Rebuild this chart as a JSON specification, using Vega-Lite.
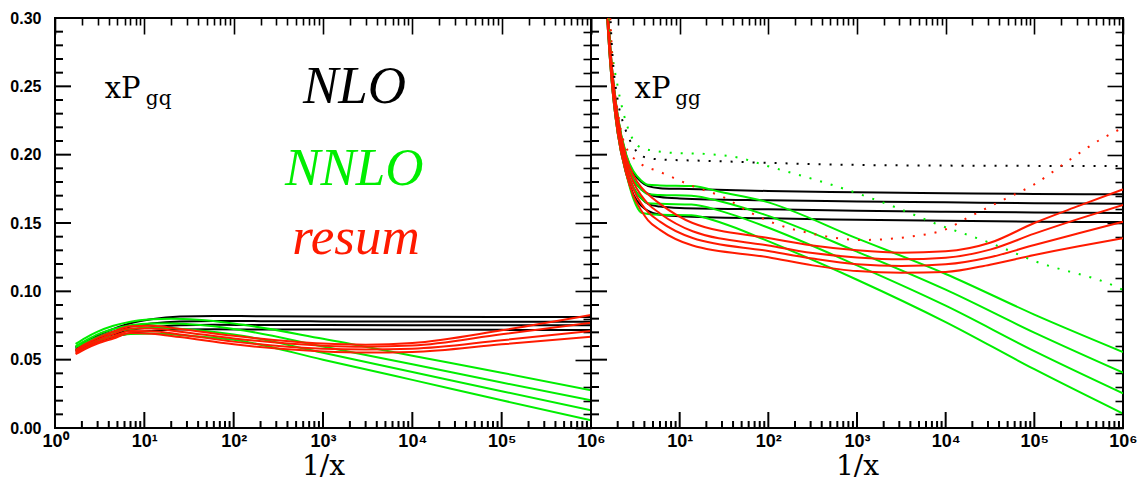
{
  "$schema": "https://vega.github.io/schema/vega-lite/v6.json",
  "background": "white",
  "padding": {"left": 8, "top": 9, "right": 2, "bottom": 2},
  "spacing": 0,
  "bounds": "flush",
  "config": {
    "view": {"stroke": "black", "strokeWidth": 2},
    "axis": {"domain": false, "grid": false, "tickColor": "black", "tickWidth": 1.6, "labelFont": "Liberation Sans", "labelFontWeight": "bold", "labelFontSize": 16, "labelColor": "black", "labelFlush": false, "labelOverlap": false, "labelBound": false, "titleFont": "DejaVu Serif", "titleFontWeight": "normal", "titleFontSize": 28, "titleColor": "black"},
    "concat": {"spacing": 0}
  },
  "datasets": {
    "xticks": [
      {"v":1,"kind":"major"},{"v":2,"kind":"minor"},{"v":3,"kind":"minor"},{"v":4,"kind":"minor"},{"v":5,"kind":"minor"},{"v":6,"kind":"minor"},{"v":7,"kind":"minor"},{"v":8,"kind":"minor"},{"v":9,"kind":"minor"},
      {"v":10,"kind":"major"},{"v":20,"kind":"minor"},{"v":30,"kind":"minor"},{"v":40,"kind":"minor"},{"v":50,"kind":"minor"},{"v":60,"kind":"minor"},{"v":70,"kind":"minor"},{"v":80,"kind":"minor"},{"v":90,"kind":"minor"},
      {"v":100,"kind":"major"},{"v":200,"kind":"minor"},{"v":300,"kind":"minor"},{"v":400,"kind":"minor"},{"v":500,"kind":"minor"},{"v":600,"kind":"minor"},{"v":700,"kind":"minor"},{"v":800,"kind":"minor"},{"v":900,"kind":"minor"},
      {"v":1000,"kind":"major"},{"v":2000,"kind":"minor"},{"v":3000,"kind":"minor"},{"v":4000,"kind":"minor"},{"v":5000,"kind":"minor"},{"v":6000,"kind":"minor"},{"v":7000,"kind":"minor"},{"v":8000,"kind":"minor"},{"v":9000,"kind":"minor"},
      {"v":10000,"kind":"major"},{"v":20000,"kind":"minor"},{"v":30000,"kind":"minor"},{"v":40000,"kind":"minor"},{"v":50000,"kind":"minor"},{"v":60000,"kind":"minor"},{"v":70000,"kind":"minor"},{"v":80000,"kind":"minor"},{"v":90000,"kind":"minor"},
      {"v":100000,"kind":"major"},{"v":200000,"kind":"minor"},{"v":300000,"kind":"minor"},{"v":400000,"kind":"minor"},{"v":500000,"kind":"minor"},{"v":600000,"kind":"minor"},{"v":700000,"kind":"minor"},{"v":800000,"kind":"minor"},{"v":900000,"kind":"minor"},
      {"v":1000000,"kind":"major"}
    ],
    "yticks": [
      {"v":0,"kind":"major"},{"v":0.01,"kind":"minor"},{"v":0.02,"kind":"minor"},{"v":0.03,"kind":"minor"},{"v":0.04,"kind":"minor"},
      {"v":0.05,"kind":"major"},{"v":0.06,"kind":"minor"},{"v":0.07,"kind":"minor"},{"v":0.08,"kind":"minor"},{"v":0.09,"kind":"minor"},
      {"v":0.1,"kind":"major"},{"v":0.11,"kind":"minor"},{"v":0.12,"kind":"minor"},{"v":0.13,"kind":"minor"},{"v":0.14,"kind":"minor"},
      {"v":0.15,"kind":"major"},{"v":0.16,"kind":"minor"},{"v":0.17,"kind":"minor"},{"v":0.18,"kind":"minor"},{"v":0.19,"kind":"minor"},
      {"v":0.2,"kind":"major"},{"v":0.21,"kind":"minor"},{"v":0.22,"kind":"minor"},{"v":0.23,"kind":"minor"},{"v":0.24,"kind":"minor"},
      {"v":0.25,"kind":"major"},{"v":0.26,"kind":"minor"},{"v":0.27,"kind":"minor"},{"v":0.28,"kind":"minor"},{"v":0.29,"kind":"minor"},
      {"v":0.3,"kind":"major"}
    ],
    "gq": [
      {"curve":"B1","order":"NLO","X":1.7,"y":0.059},{"curve":"B1","order":"NLO","X":2.2,"y":0.0635},{"curve":"B1","order":"NLO","X":3,"y":0.068},{"curve":"B1","order":"NLO","X":4.5,"y":0.0725},{"curve":"B1","order":"NLO","X":7,"y":0.0766},{"curve":"B1","order":"NLO","X":12,"y":0.0795},{"curve":"B1","order":"NLO","X":25,"y":0.0815},{"curve":"B1","order":"NLO","X":60,"y":0.082},{"curve":"B1","order":"NLO","X":200,"y":0.0818},{"curve":"B1","order":"NLO","X":1000,"y":0.0816},{"curve":"B1","order":"NLO","X":10000,"y":0.0814},{"curve":"B1","order":"NLO","X":100000,"y":0.0813},{"curve":"B1","order":"NLO","X":1000000,"y":0.0812},
      {"curve":"B2","order":"NLO","X":1.7,"y":0.058},{"curve":"B2","order":"NLO","X":2.2,"y":0.062},{"curve":"B2","order":"NLO","X":3,"y":0.0665},{"curve":"B2","order":"NLO","X":4.5,"y":0.0705},{"curve":"B2","order":"NLO","X":7,"y":0.0742},{"curve":"B2","order":"NLO","X":12,"y":0.0765},{"curve":"B2","order":"NLO","X":25,"y":0.078},{"curve":"B2","order":"NLO","X":60,"y":0.0783},{"curve":"B2","order":"NLO","X":200,"y":0.0782},{"curve":"B2","order":"NLO","X":1000,"y":0.078},{"curve":"B2","order":"NLO","X":10000,"y":0.0779},{"curve":"B2","order":"NLO","X":100000,"y":0.0778},{"curve":"B2","order":"NLO","X":1000000,"y":0.0778},
      {"curve":"B3","order":"NLO","X":1.7,"y":0.057},{"curve":"B3","order":"NLO","X":2.2,"y":0.061},{"curve":"B3","order":"NLO","X":3,"y":0.065},{"curve":"B3","order":"NLO","X":4.5,"y":0.0685},{"curve":"B3","order":"NLO","X":7,"y":0.0718},{"curve":"B3","order":"NLO","X":12,"y":0.0737},{"curve":"B3","order":"NLO","X":25,"y":0.0752},{"curve":"B3","order":"NLO","X":60,"y":0.0755},{"curve":"B3","order":"NLO","X":200,"y":0.0754},{"curve":"B3","order":"NLO","X":1000,"y":0.0753},{"curve":"B3","order":"NLO","X":10000,"y":0.0752},{"curve":"B3","order":"NLO","X":100000,"y":0.0751},{"curve":"B3","order":"NLO","X":1000000,"y":0.0751},
      {"curve":"B4","order":"NLO","X":1.7,"y":0.056},{"curve":"B4","order":"NLO","X":2.2,"y":0.0595},{"curve":"B4","order":"NLO","X":3,"y":0.0632},{"curve":"B4","order":"NLO","X":4.5,"y":0.0665},{"curve":"B4","order":"NLO","X":7,"y":0.0693},{"curve":"B4","order":"NLO","X":12,"y":0.071},{"curve":"B4","order":"NLO","X":25,"y":0.072},{"curve":"B4","order":"NLO","X":60,"y":0.0722},{"curve":"B4","order":"NLO","X":200,"y":0.0721},{"curve":"B4","order":"NLO","X":1000,"y":0.072},{"curve":"B4","order":"NLO","X":10000,"y":0.0719},{"curve":"B4","order":"NLO","X":100000,"y":0.0718},{"curve":"B4","order":"NLO","X":1000000,"y":0.0717},
      {"curve":"G1","order":"NNLO","X":1.7,"y":0.0615},{"curve":"G1","order":"NNLO","X":2.2,"y":0.066},{"curve":"G1","order":"NNLO","X":3,"y":0.0705},{"curve":"G1","order":"NNLO","X":4.5,"y":0.0748},{"curve":"G1","order":"NNLO","X":7,"y":0.0778},{"curve":"G1","order":"NNLO","X":12,"y":0.0795},{"curve":"G1","order":"NNLO","X":20,"y":0.08},{"curve":"G1","order":"NNLO","X":40,"y":0.0792},{"curve":"G1","order":"NNLO","X":100,"y":0.0765},{"curve":"G1","order":"NNLO","X":1000,"y":0.0653},{"curve":"G1","order":"NNLO","X":10000,"y":0.0528},{"curve":"G1","order":"NNLO","X":100000,"y":0.0405},{"curve":"G1","order":"NNLO","X":1000000,"y":0.0276},
      {"curve":"G2","order":"NNLO","X":1.7,"y":0.06},{"curve":"G2","order":"NNLO","X":2.2,"y":0.064},{"curve":"G2","order":"NNLO","X":3,"y":0.0685},{"curve":"G2","order":"NNLO","X":4.5,"y":0.0725},{"curve":"G2","order":"NNLO","X":7,"y":0.0752},{"curve":"G2","order":"NNLO","X":12,"y":0.0765},{"curve":"G2","order":"NNLO","X":20,"y":0.0765},{"curve":"G2","order":"NNLO","X":40,"y":0.0755},{"curve":"G2","order":"NNLO","X":100,"y":0.0725},{"curve":"G2","order":"NNLO","X":1000,"y":0.0597},{"curve":"G2","order":"NNLO","X":10000,"y":0.0466},{"curve":"G2","order":"NNLO","X":100000,"y":0.0333},{"curve":"G2","order":"NNLO","X":1000000,"y":0.0203},
      {"curve":"G3","order":"NNLO","X":1.7,"y":0.059},{"curve":"G3","order":"NNLO","X":2.2,"y":0.0625},{"curve":"G3","order":"NNLO","X":3,"y":0.0665},{"curve":"G3","order":"NNLO","X":4.5,"y":0.0702},{"curve":"G3","order":"NNLO","X":7,"y":0.0725},{"curve":"G3","order":"NNLO","X":12,"y":0.0733},{"curve":"G3","order":"NNLO","X":20,"y":0.073},{"curve":"G3","order":"NNLO","X":40,"y":0.0715},{"curve":"G3","order":"NNLO","X":100,"y":0.0685},{"curve":"G3","order":"NNLO","X":1000,"y":0.0551},{"curve":"G3","order":"NNLO","X":10000,"y":0.041},{"curve":"G3","order":"NNLO","X":100000,"y":0.0269},{"curve":"G3","order":"NNLO","X":1000000,"y":0.013},
      {"curve":"G4","order":"NNLO","X":1.7,"y":0.057},{"curve":"G4","order":"NNLO","X":2.2,"y":0.0605},{"curve":"G4","order":"NNLO","X":3,"y":0.064},{"curve":"G4","order":"NNLO","X":4.5,"y":0.067},{"curve":"G4","order":"NNLO","X":7,"y":0.0688},{"curve":"G4","order":"NNLO","X":12,"y":0.0692},{"curve":"G4","order":"NNLO","X":20,"y":0.0685},{"curve":"G4","order":"NNLO","X":40,"y":0.067},{"curve":"G4","order":"NNLO","X":100,"y":0.0645},{"curve":"G4","order":"NNLO","X":1000,"y":0.05},{"curve":"G4","order":"NNLO","X":10000,"y":0.0352},{"curve":"G4","order":"NNLO","X":100000,"y":0.0203},{"curve":"G4","order":"NNLO","X":1000000,"y":0.0056},
      {"curve":"R1","order":"resum","X":1.7,"y":0.057},{"curve":"R1","order":"resum","X":2.2,"y":0.0615},{"curve":"R1","order":"resum","X":3,"y":0.066},{"curve":"R1","order":"resum","X":4.5,"y":0.0705},{"curve":"R1","order":"resum","X":7,"y":0.0745},{"curve":"R1","order":"resum","X":12,"y":0.0748},{"curve":"R1","order":"resum","X":25,"y":0.0725},{"curve":"R1","order":"resum","X":100,"y":0.0675},{"curve":"R1","order":"resum","X":1000,"y":0.0618},{"curve":"R1","order":"resum","X":3000,"y":0.061},{"curve":"R1","order":"resum","X":10000,"y":0.0622},{"curve":"R1","order":"resum","X":100000,"y":0.0715},{"curve":"R1","order":"resum","X":1000000,"y":0.0827},
      {"curve":"R2","order":"resum","X":1.7,"y":0.056},{"curve":"R2","order":"resum","X":2.2,"y":0.0602},{"curve":"R2","order":"resum","X":3,"y":0.0645},{"curve":"R2","order":"resum","X":4.5,"y":0.0688},{"curve":"R2","order":"resum","X":7,"y":0.0728},{"curve":"R2","order":"resum","X":12,"y":0.0728},{"curve":"R2","order":"resum","X":25,"y":0.0705},{"curve":"R2","order":"resum","X":100,"y":0.0655},{"curve":"R2","order":"resum","X":1000,"y":0.0602},{"curve":"R2","order":"resum","X":3000,"y":0.0595},{"curve":"R2","order":"resum","X":10000,"y":0.0603},{"curve":"R2","order":"resum","X":100000,"y":0.0686},{"curve":"R2","order":"resum","X":1000000,"y":0.0771},
      {"curve":"R3","order":"resum","X":1.7,"y":0.055},{"curve":"R3","order":"resum","X":2.2,"y":0.059},{"curve":"R3","order":"resum","X":3,"y":0.063},{"curve":"R3","order":"resum","X":4.5,"y":0.067},{"curve":"R3","order":"resum","X":7,"y":0.071},{"curve":"R3","order":"resum","X":12,"y":0.0708},{"curve":"R3","order":"resum","X":25,"y":0.0685},{"curve":"R3","order":"resum","X":100,"y":0.0632},{"curve":"R3","order":"resum","X":1000,"y":0.058},{"curve":"R3","order":"resum","X":3000,"y":0.0575},{"curve":"R3","order":"resum","X":10000,"y":0.058},{"curve":"R3","order":"resum","X":100000,"y":0.0642},{"curve":"R3","order":"resum","X":1000000,"y":0.071},
      {"curve":"R4","order":"resum","X":1.7,"y":0.054},{"curve":"R4","order":"resum","X":2.2,"y":0.058},{"curve":"R4","order":"resum","X":3,"y":0.0618},{"curve":"R4","order":"resum","X":4.5,"y":0.0655},{"curve":"R4","order":"resum","X":7,"y":0.0695},{"curve":"R4","order":"resum","X":12,"y":0.069},{"curve":"R4","order":"resum","X":25,"y":0.0665},{"curve":"R4","order":"resum","X":100,"y":0.0612},{"curve":"R4","order":"resum","X":1000,"y":0.056},{"curve":"R4","order":"resum","X":3000,"y":0.0552},{"curve":"R4","order":"resum","X":10000,"y":0.0556},{"curve":"R4","order":"resum","X":100000,"y":0.0612},{"curve":"R4","order":"resum","X":1000000,"y":0.0668}
    ],
    "gg": [
      {"curve":"B1","order":"NLO","style":"solid","X":1.45,"y":0.34},{"curve":"B1","order":"NLO","style":"solid","X":1.55,"y":0.305},{"curve":"B1","order":"NLO","style":"solid","X":1.7,"y":0.268},{"curve":"B1","order":"NLO","style":"solid","X":2,"y":0.228},{"curve":"B1","order":"NLO","style":"solid","X":2.5,"y":0.199},{"curve":"B1","order":"NLO","style":"solid","X":3,"y":0.187},{"curve":"B1","order":"NLO","style":"solid","X":3.7,"y":0.18},{"curve":"B1","order":"NLO","style":"solid","X":4.4,"y":0.177},{"curve":"B1","order":"NLO","style":"solid","X":6,"y":0.1755},{"curve":"B1","order":"NLO","style":"solid","X":10,"y":0.175},{"curve":"B1","order":"NLO","style":"solid","X":100,"y":0.1734},{"curve":"B1","order":"NLO","style":"solid","X":1000,"y":0.1725},{"curve":"B1","order":"NLO","style":"solid","X":10000,"y":0.1718},{"curve":"B1","order":"NLO","style":"solid","X":100000,"y":0.1713},{"curve":"B1","order":"NLO","style":"solid","X":1000000,"y":0.171},
      {"curve":"B2","order":"NLO","style":"solid","X":1.45,"y":0.335},{"curve":"B2","order":"NLO","style":"solid","X":1.55,"y":0.3},{"curve":"B2","order":"NLO","style":"solid","X":1.7,"y":0.264},{"curve":"B2","order":"NLO","style":"solid","X":2,"y":0.224},{"curve":"B2","order":"NLO","style":"solid","X":2.5,"y":0.195},{"curve":"B2","order":"NLO","style":"solid","X":3,"y":0.182},{"curve":"B2","order":"NLO","style":"solid","X":3.7,"y":0.1745},{"curve":"B2","order":"NLO","style":"solid","X":4.4,"y":0.1714},{"curve":"B2","order":"NLO","style":"solid","X":6,"y":0.169},{"curve":"B2","order":"NLO","style":"solid","X":10,"y":0.168},{"curve":"B2","order":"NLO","style":"solid","X":100,"y":0.1666},{"curve":"B2","order":"NLO","style":"solid","X":1000,"y":0.1658},{"curve":"B2","order":"NLO","style":"solid","X":10000,"y":0.1651},{"curve":"B2","order":"NLO","style":"solid","X":100000,"y":0.1645},{"curve":"B2","order":"NLO","style":"solid","X":1000000,"y":0.1641},
      {"curve":"B3","order":"NLO","style":"solid","X":1.45,"y":0.33},{"curve":"B3","order":"NLO","style":"solid","X":1.55,"y":0.296},{"curve":"B3","order":"NLO","style":"solid","X":1.7,"y":0.26},{"curve":"B3","order":"NLO","style":"solid","X":2,"y":0.22},{"curve":"B3","order":"NLO","style":"solid","X":2.5,"y":0.19},{"curve":"B3","order":"NLO","style":"solid","X":3,"y":0.176},{"curve":"B3","order":"NLO","style":"solid","X":3.7,"y":0.168},{"curve":"B3","order":"NLO","style":"solid","X":4.4,"y":0.164},{"curve":"B3","order":"NLO","style":"solid","X":6,"y":0.162},{"curve":"B3","order":"NLO","style":"solid","X":10,"y":0.161},{"curve":"B3","order":"NLO","style":"solid","X":100,"y":0.16},{"curve":"B3","order":"NLO","style":"solid","X":1000,"y":0.159},{"curve":"B3","order":"NLO","style":"solid","X":10000,"y":0.1582},{"curve":"B3","order":"NLO","style":"solid","X":100000,"y":0.1577},{"curve":"B3","order":"NLO","style":"solid","X":1000000,"y":0.1573},
      {"curve":"B4","order":"NLO","style":"solid","X":1.45,"y":0.325},{"curve":"B4","order":"NLO","style":"solid","X":1.55,"y":0.292},{"curve":"B4","order":"NLO","style":"solid","X":1.7,"y":0.256},{"curve":"B4","order":"NLO","style":"solid","X":2,"y":0.216},{"curve":"B4","order":"NLO","style":"solid","X":2.5,"y":0.186},{"curve":"B4","order":"NLO","style":"solid","X":3,"y":0.171},{"curve":"B4","order":"NLO","style":"solid","X":3.7,"y":0.1625},{"curve":"B4","order":"NLO","style":"solid","X":4.4,"y":0.1588},{"curve":"B4","order":"NLO","style":"solid","X":6,"y":0.156},{"curve":"B4","order":"NLO","style":"solid","X":10,"y":0.155},{"curve":"B4","order":"NLO","style":"solid","X":100,"y":0.1534},{"curve":"B4","order":"NLO","style":"solid","X":1000,"y":0.1524},{"curve":"B4","order":"NLO","style":"solid","X":10000,"y":0.1516},{"curve":"B4","order":"NLO","style":"solid","X":100000,"y":0.151},{"curve":"B4","order":"NLO","style":"solid","X":1000000,"y":0.1507},
      {"curve":"G1","order":"NNLO","style":"solid","X":1.45,"y":0.34},{"curve":"G1","order":"NNLO","style":"solid","X":1.55,"y":0.305},{"curve":"G1","order":"NNLO","style":"solid","X":1.7,"y":0.268},{"curve":"G1","order":"NNLO","style":"solid","X":2,"y":0.229},{"curve":"G1","order":"NNLO","style":"solid","X":2.5,"y":0.2},{"curve":"G1","order":"NNLO","style":"solid","X":3,"y":0.188},{"curve":"G1","order":"NNLO","style":"solid","X":3.7,"y":0.181},{"curve":"G1","order":"NNLO","style":"solid","X":4.4,"y":0.178},{"curve":"G1","order":"NNLO","style":"solid","X":6,"y":0.1775},{"curve":"G1","order":"NNLO","style":"solid","X":13.6,"y":0.177},{"curve":"G1","order":"NNLO","style":"solid","X":30,"y":0.1725},{"curve":"G1","order":"NNLO","style":"solid","X":89,"y":0.166},{"curve":"G1","order":"NNLO","style":"solid","X":1000,"y":0.1387},{"curve":"G1","order":"NNLO","style":"solid","X":10000,"y":0.1127},{"curve":"G1","order":"NNLO","style":"solid","X":100000,"y":0.083},{"curve":"G1","order":"NNLO","style":"solid","X":1000000,"y":0.0556},
      {"curve":"G2","order":"NNLO","style":"solid","X":1.45,"y":0.335},{"curve":"G2","order":"NNLO","style":"solid","X":1.55,"y":0.3},{"curve":"G2","order":"NNLO","style":"solid","X":1.7,"y":0.264},{"curve":"G2","order":"NNLO","style":"solid","X":2,"y":0.224},{"curve":"G2","order":"NNLO","style":"solid","X":2.5,"y":0.195},{"curve":"G2","order":"NNLO","style":"solid","X":3,"y":0.182},{"curve":"G2","order":"NNLO","style":"solid","X":3.7,"y":0.1745},{"curve":"G2","order":"NNLO","style":"solid","X":4.4,"y":0.171},{"curve":"G2","order":"NNLO","style":"solid","X":6,"y":0.1705},{"curve":"G2","order":"NNLO","style":"solid","X":13.6,"y":0.17},{"curve":"G2","order":"NNLO","style":"solid","X":30,"y":0.1655},{"curve":"G2","order":"NNLO","style":"solid","X":89,"y":0.1563},{"curve":"G2","order":"NNLO","style":"solid","X":1000,"y":0.129},{"curve":"G2","order":"NNLO","style":"solid","X":10000,"y":0.1012},{"curve":"G2","order":"NNLO","style":"solid","X":100000,"y":0.0698},{"curve":"G2","order":"NNLO","style":"solid","X":1000000,"y":0.0405},
      {"curve":"G3","order":"NNLO","style":"solid","X":1.45,"y":0.33},{"curve":"G3","order":"NNLO","style":"solid","X":1.55,"y":0.296},{"curve":"G3","order":"NNLO","style":"solid","X":1.7,"y":0.26},{"curve":"G3","order":"NNLO","style":"solid","X":2,"y":0.22},{"curve":"G3","order":"NNLO","style":"solid","X":2.5,"y":0.19},{"curve":"G3","order":"NNLO","style":"solid","X":3,"y":0.176},{"curve":"G3","order":"NNLO","style":"solid","X":3.7,"y":0.168},{"curve":"G3","order":"NNLO","style":"solid","X":4.4,"y":0.1645},{"curve":"G3","order":"NNLO","style":"solid","X":6,"y":0.164},{"curve":"G3","order":"NNLO","style":"solid","X":13.6,"y":0.1635},{"curve":"G3","order":"NNLO","style":"solid","X":30,"y":0.1585},{"curve":"G3","order":"NNLO","style":"solid","X":89,"y":0.1478},{"curve":"G3","order":"NNLO","style":"solid","X":1000,"y":0.119},{"curve":"G3","order":"NNLO","style":"solid","X":10000,"y":0.0895},{"curve":"G3","order":"NNLO","style":"solid","X":100000,"y":0.0563},{"curve":"G3","order":"NNLO","style":"solid","X":1000000,"y":0.0254},
      {"curve":"G4","order":"NNLO","style":"solid","X":1.45,"y":0.325},{"curve":"G4","order":"NNLO","style":"solid","X":1.55,"y":0.292},{"curve":"G4","order":"NNLO","style":"solid","X":1.7,"y":0.256},{"curve":"G4","order":"NNLO","style":"solid","X":2,"y":0.216},{"curve":"G4","order":"NNLO","style":"solid","X":2.5,"y":0.186},{"curve":"G4","order":"NNLO","style":"solid","X":3,"y":0.168},{"curve":"G4","order":"NNLO","style":"solid","X":3.7,"y":0.1575},{"curve":"G4","order":"NNLO","style":"solid","X":4.4,"y":0.1566},{"curve":"G4","order":"NNLO","style":"solid","X":6,"y":0.156},{"curve":"G4","order":"NNLO","style":"solid","X":13.6,"y":0.1557},{"curve":"G4","order":"NNLO","style":"solid","X":30,"y":0.15},{"curve":"G4","order":"NNLO","style":"solid","X":89,"y":0.138},{"curve":"G4","order":"NNLO","style":"solid","X":1000,"y":0.1085},{"curve":"G4","order":"NNLO","style":"solid","X":10000,"y":0.0775},{"curve":"G4","order":"NNLO","style":"solid","X":100000,"y":0.043},{"curve":"G4","order":"NNLO","style":"solid","X":1000000,"y":0.0105},
      {"curve":"R1","order":"resum","style":"solid","X":1.45,"y":0.34},{"curve":"R1","order":"resum","style":"solid","X":1.55,"y":0.305},{"curve":"R1","order":"resum","style":"solid","X":1.7,"y":0.268},{"curve":"R1","order":"resum","style":"solid","X":2,"y":0.228},{"curve":"R1","order":"resum","style":"solid","X":2.5,"y":0.198},{"curve":"R1","order":"resum","style":"solid","X":3,"y":0.185},{"curve":"R1","order":"resum","style":"solid","X":3.7,"y":0.176},{"curve":"R1","order":"resum","style":"solid","X":4.4,"y":0.171},{"curve":"R1","order":"resum","style":"solid","X":6,"y":0.164},{"curve":"R1","order":"resum","style":"solid","X":14,"y":0.15},{"curve":"R1","order":"resum","style":"solid","X":100,"y":0.139},{"curve":"R1","order":"resum","style":"solid","X":316,"y":0.1335},{"curve":"R1","order":"resum","style":"solid","X":1000,"y":0.13},{"curve":"R1","order":"resum","style":"solid","X":3162,"y":0.1283},{"curve":"R1","order":"resum","style":"solid","X":10000,"y":0.1293},{"curve":"R1","order":"resum","style":"solid","X":31623,"y":0.1355},{"curve":"R1","order":"resum","style":"solid","X":100000,"y":0.15},{"curve":"R1","order":"resum","style":"solid","X":316228,"y":0.1625},{"curve":"R1","order":"resum","style":"solid","X":1000000,"y":0.1746},
      {"curve":"R2","order":"resum","style":"solid","X":1.45,"y":0.335},{"curve":"R2","order":"resum","style":"solid","X":1.55,"y":0.3},{"curve":"R2","order":"resum","style":"solid","X":1.7,"y":0.264},{"curve":"R2","order":"resum","style":"solid","X":2,"y":0.224},{"curve":"R2","order":"resum","style":"solid","X":2.5,"y":0.194},{"curve":"R2","order":"resum","style":"solid","X":3,"y":0.18},{"curve":"R2","order":"resum","style":"solid","X":3.7,"y":0.17},{"curve":"R2","order":"resum","style":"solid","X":4.4,"y":0.164},{"curve":"R2","order":"resum","style":"solid","X":6,"y":0.157},{"curve":"R2","order":"resum","style":"solid","X":14,"y":0.144},{"curve":"R2","order":"resum","style":"solid","X":100,"y":0.1335},{"curve":"R2","order":"resum","style":"solid","X":316,"y":0.128},{"curve":"R2","order":"resum","style":"solid","X":1000,"y":0.1248},{"curve":"R2","order":"resum","style":"solid","X":3162,"y":0.1234},{"curve":"R2","order":"resum","style":"solid","X":10000,"y":0.1246},{"curve":"R2","order":"resum","style":"solid","X":31623,"y":0.1305},{"curve":"R2","order":"resum","style":"solid","X":100000,"y":0.1422},{"curve":"R2","order":"resum","style":"solid","X":316228,"y":0.153},{"curve":"R2","order":"resum","style":"solid","X":1000000,"y":0.1632},
      {"curve":"R3","order":"resum","style":"solid","X":1.45,"y":0.33},{"curve":"R3","order":"resum","style":"solid","X":1.55,"y":0.296},{"curve":"R3","order":"resum","style":"solid","X":1.7,"y":0.26},{"curve":"R3","order":"resum","style":"solid","X":2,"y":0.22},{"curve":"R3","order":"resum","style":"solid","X":2.5,"y":0.19},{"curve":"R3","order":"resum","style":"solid","X":3,"y":0.175},{"curve":"R3","order":"resum","style":"solid","X":3.7,"y":0.164},{"curve":"R3","order":"resum","style":"solid","X":4.4,"y":0.158},{"curve":"R3","order":"resum","style":"solid","X":6,"y":0.151},{"curve":"R3","order":"resum","style":"solid","X":14,"y":0.139},{"curve":"R3","order":"resum","style":"solid","X":100,"y":0.1295},{"curve":"R3","order":"resum","style":"solid","X":316,"y":0.124},{"curve":"R3","order":"resum","style":"solid","X":1000,"y":0.1198},{"curve":"R3","order":"resum","style":"solid","X":3162,"y":0.1185},{"curve":"R3","order":"resum","style":"solid","X":10000,"y":0.1198},{"curve":"R3","order":"resum","style":"solid","X":31623,"y":0.125},{"curve":"R3","order":"resum","style":"solid","X":100000,"y":0.1339},{"curve":"R3","order":"resum","style":"solid","X":316228,"y":0.1425},{"curve":"R3","order":"resum","style":"solid","X":1000000,"y":0.151},
      {"curve":"R4","order":"resum","style":"solid","X":1.45,"y":0.325},{"curve":"R4","order":"resum","style":"solid","X":1.55,"y":0.292},{"curve":"R4","order":"resum","style":"solid","X":1.7,"y":0.256},{"curve":"R4","order":"resum","style":"solid","X":2,"y":0.216},{"curve":"R4","order":"resum","style":"solid","X":2.5,"y":0.186},{"curve":"R4","order":"resum","style":"solid","X":3,"y":0.17},{"curve":"R4","order":"resum","style":"solid","X":3.7,"y":0.159},{"curve":"R4","order":"resum","style":"solid","X":4.4,"y":0.152},{"curve":"R4","order":"resum","style":"solid","X":6,"y":0.145},{"curve":"R4","order":"resum","style":"solid","X":14,"y":0.1335},{"curve":"R4","order":"resum","style":"solid","X":100,"y":0.125},{"curve":"R4","order":"resum","style":"solid","X":316,"y":0.119},{"curve":"R4","order":"resum","style":"solid","X":1000,"y":0.1148},{"curve":"R4","order":"resum","style":"solid","X":3162,"y":0.1136},{"curve":"R4","order":"resum","style":"solid","X":10000,"y":0.1142},{"curve":"R4","order":"resum","style":"solid","X":31623,"y":0.1195},{"curve":"R4","order":"resum","style":"solid","X":100000,"y":0.1266},{"curve":"R4","order":"resum","style":"solid","X":316228,"y":0.133},{"curve":"R4","order":"resum","style":"solid","X":1000000,"y":0.1388},
      {"curve":"Bd","order":"NLO","style":"dotted","X":1.6,"y":0.33},{"curve":"Bd","order":"NLO","style":"dotted","X":1.7,"y":0.285},{"curve":"Bd","order":"NLO","style":"dotted","X":1.76,"y":0.27},{"curve":"Bd","order":"NLO","style":"dotted","X":2,"y":0.24},{"curve":"Bd","order":"NLO","style":"dotted","X":2.4,"y":0.22},{"curve":"Bd","order":"NLO","style":"dotted","X":3,"y":0.206},{"curve":"Bd","order":"NLO","style":"dotted","X":3.7,"y":0.199},{"curve":"Bd","order":"NLO","style":"dotted","X":6,"y":0.1965},{"curve":"Bd","order":"NLO","style":"dotted","X":20,"y":0.1955},{"curve":"Bd","order":"NLO","style":"dotted","X":100,"y":0.194},{"curve":"Bd","order":"NLO","style":"dotted","X":1000,"y":0.1925},{"curve":"Bd","order":"NLO","style":"dotted","X":10000,"y":0.192},{"curve":"Bd","order":"NLO","style":"dotted","X":1000000,"y":0.1917},
      {"curve":"Gd","order":"NNLO","style":"dotted","X":1.5,"y":0.34},{"curve":"Gd","order":"NNLO","style":"dotted","X":1.61,"y":0.298},{"curve":"Gd","order":"NNLO","style":"dotted","X":1.7,"y":0.28},{"curve":"Gd","order":"NNLO","style":"dotted","X":2,"y":0.25},{"curve":"Gd","order":"NNLO","style":"dotted","X":2.4,"y":0.227},{"curve":"Gd","order":"NNLO","style":"dotted","X":3.7,"y":0.205},{"curve":"Gd","order":"NNLO","style":"dotted","X":8,"y":0.2014},{"curve":"Gd","order":"NNLO","style":"dotted","X":20,"y":0.2005},{"curve":"Gd","order":"NNLO","style":"dotted","X":46,"y":0.1978},{"curve":"Gd","order":"NNLO","style":"dotted","X":100,"y":0.1915},{"curve":"Gd","order":"NNLO","style":"dotted","X":209,"y":0.1856},{"curve":"Gd","order":"NNLO","style":"dotted","X":500,"y":0.1783},{"curve":"Gd","order":"NNLO","style":"dotted","X":1200,"y":0.17},{"curve":"Gd","order":"NNLO","style":"dotted","X":2800,"y":0.1612},{"curve":"Gd","order":"NNLO","style":"dotted","X":7400,"y":0.15},{"curve":"Gd","order":"NNLO","style":"dotted","X":35000,"y":0.1344},{"curve":"Gd","order":"NNLO","style":"dotted","X":100000,"y":0.1222},{"curve":"Gd","order":"NNLO","style":"dotted","X":800000,"y":0.1039},{"curve":"Gd","order":"NNLO","style":"dotted","X":1000000,"y":0.101},
      {"curve":"Rd","order":"resum","style":"dotted","X":1.55,"y":0.34},{"curve":"Rd","order":"resum","style":"dotted","X":1.65,"y":0.3},{"curve":"Rd","order":"resum","style":"dotted","X":1.8,"y":0.255},{"curve":"Rd","order":"resum","style":"dotted","X":2,"y":0.232},{"curve":"Rd","order":"resum","style":"dotted","X":2.4,"y":0.2076},{"curve":"Rd","order":"resum","style":"dotted","X":3.7,"y":0.193},{"curve":"Rd","order":"resum","style":"dotted","X":5.7,"y":0.188},{"curve":"Rd","order":"resum","style":"dotted","X":14,"y":0.177},{"curve":"Rd","order":"resum","style":"dotted","X":32,"y":0.1685},{"curve":"Rd","order":"resum","style":"dotted","X":58,"y":0.1588},{"curve":"Rd","order":"resum","style":"dotted","X":100,"y":0.1515},{"curve":"Rd","order":"resum","style":"dotted","X":310,"y":0.1422},{"curve":"Rd","order":"resum","style":"dotted","X":1150,"y":0.1376},{"curve":"Rd","order":"resum","style":"dotted","X":3900,"y":0.14},{"curve":"Rd","order":"resum","style":"dotted","X":10000,"y":0.1454},{"curve":"Rd","order":"resum","style":"dotted","X":17800,"y":0.1539},{"curve":"Rd","order":"resum","style":"dotted","X":42000,"y":0.1661},{"curve":"Rd","order":"resum","style":"dotted","X":100000,"y":0.1783},{"curve":"Rd","order":"resum","style":"dotted","X":240000,"y":0.1954},{"curve":"Rd","order":"resum","style":"dotted","X":560000,"y":0.2112},{"curve":"Rd","order":"resum","style":"dotted","X":1000000,"y":0.2197}
    ],
    "notes": [
      {"panel":"gq","kind":"main","t":"xP","X":3.6,"y":0.2415},
      {"panel":"gq","kind":"sub","t":"gq","X":10.4,"y":0.2363},
      {"panel":"gg","kind":"main","t":"xP","X":3.1,"y":0.2415},
      {"panel":"gg","kind":"sub","t":"gg","X":8.9,"y":0.2363}
    ],
    "names": [
      {"t":"NLO","order":"NLO","X":2254,"y":0.2378},
      {"t":"NNLO","order":"NNLO","X":2240,"y":0.1778},
      {"t":"resum","order":"resum","X":2340,"y":0.1273}
    ]
  },
  "hconcat": [
    {
      "width": 536,
      "height": 410,
      "resolve": {"axis": {"x": "independent", "y": "independent"}},
      "layer": [
        {
          "data": {"name": "gq"},
          "mark": {"type": "line", "clip": true, "strokeWidth": 2, "interpolate": "monotone"},
          "encoding": {
            "x": {"field": "X", "type": "quantitative", "scale": {"type": "log", "domain": [1, 1000000], "nice": false},
              "axis": {"orient": "bottom", "values": [1,10,100,1000,10000,100000,1000000], "ticks": false,
                "labelExpr": "'10'+['⁰','¹','²','³','⁴','⁵','⁶'][round(log(datum.value)/LN10)]",
                "labelFontSize": 18, "labelPadding": 4, "title": "1/x", "titleY": 46, "titleBaseline": "alphabetic"}},
            "y": {"field": "y", "type": "quantitative", "scale": {"domain": [0, 0.3], "nice": false, "zero": false},
              "axis": {"orient": "left", "values": [0,0.05,0.1,0.15,0.2,0.25,0.3], "ticks": false, "format": ".2f", "labelPadding": 14, "title": null}},
            "color": {"field": "order", "type": "nominal", "scale": {"domain": ["NLO", "NNLO", "resum"], "range": ["#000000", "#00ee00", "#ff1a00"]}, "legend": null},
            "detail": {"field": "curve"}
          }
        },
        {
          "data": {"name": "notes"},
          "transform": [{"filter": "datum.panel == 'gq' && datum.kind == 'main'"}],
          "mark": {"type": "text", "font": "DejaVu Serif", "fontSize": 29, "align": "left", "baseline": "alphabetic", "color": "black"},
          "encoding": {
            "x": {"field": "X", "type": "quantitative", "scale": {"type": "log", "domain": [1, 1000000], "nice": false},
              "axis": {"orient": "top", "values": [1,10,100,1000,10000,100000,1000000], "tickSize": -16, "labels": false, "title": null}},
            "y": {"field": "y", "type": "quantitative", "scale": {"domain": [0, 0.3], "nice": false, "zero": false},
              "axis": {"orient": "right", "values": [0,0.05,0.1,0.15,0.2,0.25,0.3], "tickSize": -16, "labels": false, "title": null}},
            "text": {"field": "t"}
          }
        },
        {
          "data": {"name": "notes"},
          "transform": [{"filter": "datum.panel == 'gq' && datum.kind == 'sub'"}],
          "mark": {"type": "text", "font": "DejaVu Serif", "fontSize": 20, "align": "left", "baseline": "alphabetic", "color": "black"},
          "encoding": {
            "x": {"field": "X", "type": "quantitative", "scale": {"type": "log", "domain": [1, 1000000], "nice": false},
              "axis": {"orient": "top", "values": [2,3,4,5,6,7,8,9,20,30,40,50,60,70,80,90,200,300,400,500,600,700,800,900,2000,3000,4000,5000,6000,7000,8000,9000,20000,30000,40000,50000,60000,70000,80000,90000,200000,300000,400000,500000,600000,700000,800000,900000], "tickSize": -7, "labels": false, "title": null}},
            "y": {"field": "y", "type": "quantitative", "scale": {"domain": [0, 0.3], "nice": false, "zero": false},
              "axis": {"orient": "right", "values": [0.01,0.02,0.03,0.04,0.06,0.07,0.08,0.09,0.11,0.12,0.13,0.14,0.16,0.17,0.18,0.19,0.21,0.22,0.23,0.24,0.26,0.27,0.28,0.29], "tickSize": -8, "labels": false, "title": null}},
            "text": {"field": "t"}
          }
        },
        {
          "data": {"name": "names"},
          "mark": {"type": "text", "font": "Liberation Serif", "fontStyle": "italic", "fontSize": 53, "align": "center", "baseline": "alphabetic"},
          "encoding": {
            "x": {"field": "X", "type": "quantitative", "scale": {"type": "log", "domain": [1, 1000000], "nice": false}, "axis": null},
            "y": {"field": "y", "type": "quantitative", "scale": {"domain": [0, 0.3], "nice": false, "zero": false}, "axis": null},
            "color": {"field": "order", "type": "nominal", "scale": {"domain": ["NLO", "NNLO", "resum"], "range": ["#000000", "#00ee00", "#ff1a00"]}, "legend": null},
            "text": {"field": "t"}
          }
        },
        {
          "data": {"name": "xticks"},
          "transform": [{"filter": "datum.kind == 'major'"}],
          "mark": {"type": "tick", "orient": "vertical", "size": 32, "thickness": 2, "color": "black", "opacity": 1, "clip": true},
          "encoding": {
            "x": {"field": "v", "type": "quantitative", "scale": {"type": "log", "domain": [1, 1000000], "nice": false}, "axis": null},
            "y": {"datum": 0, "type": "quantitative", "scale": {"domain": [0, 0.3], "nice": false, "zero": false}, "axis": null}
          }
        },
        {
          "data": {"name": "xticks"},
          "transform": [{"filter": "datum.kind == 'minor'"}],
          "mark": {"type": "tick", "orient": "vertical", "size": 14, "thickness": 2, "color": "black", "opacity": 1, "clip": true},
          "encoding": {
            "x": {"field": "v", "type": "quantitative", "scale": {"type": "log", "domain": [1, 1000000], "nice": false}, "axis": null},
            "y": {"datum": 0, "type": "quantitative", "scale": {"domain": [0, 0.3], "nice": false, "zero": false}, "axis": null}
          }
        },
        {
          "data": {"name": "yticks"},
          "transform": [{"filter": "datum.kind == 'major'"}],
          "mark": {"type": "tick", "orient": "horizontal", "size": 32, "thickness": 2, "color": "black", "opacity": 1, "clip": true},
          "encoding": {
            "x": {"datum": 1, "type": "quantitative", "scale": {"type": "log", "domain": [1, 1000000], "nice": false}, "axis": null},
            "y": {"field": "v", "type": "quantitative", "scale": {"domain": [0, 0.3], "nice": false, "zero": false}, "axis": null}
          }
        },
        {
          "data": {"name": "yticks"},
          "transform": [{"filter": "datum.kind == 'minor'"}],
          "mark": {"type": "tick", "orient": "horizontal", "size": 16, "thickness": 2, "color": "black", "opacity": 1, "clip": true},
          "encoding": {
            "x": {"datum": 1, "type": "quantitative", "scale": {"type": "log", "domain": [1, 1000000], "nice": false}, "axis": null},
            "y": {"field": "v", "type": "quantitative", "scale": {"domain": [0, 0.3], "nice": false, "zero": false}, "axis": null}
          }
        }
      ]
    },
    {
      "width": 532,
      "height": 410,
      "resolve": {"axis": {"x": "independent", "y": "independent"}},
      "layer": [
        {
          "data": {"name": "gg"},
          "transform": [{"filter": "datum.style == 'solid'"}],
          "mark": {"type": "line", "clip": true, "strokeWidth": 2, "interpolate": "monotone"},
          "encoding": {
            "x": {"field": "X", "type": "quantitative", "scale": {"type": "log", "domain": [1, 1000000], "nice": false},
              "axis": {"orient": "bottom", "values": [1,10,100,1000,10000,100000,1000000], "ticks": false,
                "labelExpr": "datum.value < 1.5 ? '' : '10'+['⁰','¹','²','³','⁴','⁵','⁶'][round(log(datum.value)/LN10)]",
                "labelFontSize": 18, "labelPadding": 4, "title": "1/x", "titleY": 46, "titleBaseline": "alphabetic"}},
            "y": {"field": "y", "type": "quantitative", "scale": {"domain": [0, 0.3], "nice": false, "zero": false}, "axis": null},
            "color": {"field": "order", "type": "nominal", "scale": {"domain": ["NLO", "NNLO", "resum"], "range": ["#000000", "#00ee00", "#ff1a00"]}, "legend": null},
            "detail": {"field": "curve"}
          }
        },
        {
          "data": {"name": "gg"},
          "transform": [{"filter": "datum.style == 'dotted'"}],
          "mark": {"type": "line", "clip": true, "strokeWidth": 2, "strokeDash": [2, 9], "interpolate": "monotone"},
          "encoding": {
            "x": {"field": "X", "type": "quantitative", "scale": {"type": "log", "domain": [1, 1000000], "nice": false}, "axis": null},
            "y": {"field": "y", "type": "quantitative", "scale": {"domain": [0, 0.3], "nice": false, "zero": false}, "axis": null},
            "color": {"field": "order", "type": "nominal", "scale": {"domain": ["NLO", "NNLO", "resum"], "range": ["#000000", "#00ee00", "#ff1a00"]}, "legend": null},
            "detail": {"field": "curve"}
          }
        },
        {
          "data": {"name": "notes"},
          "transform": [{"filter": "datum.panel == 'gg' && datum.kind == 'main'"}],
          "mark": {"type": "text", "font": "DejaVu Serif", "fontSize": 29, "align": "left", "baseline": "alphabetic", "color": "black"},
          "encoding": {
            "x": {"field": "X", "type": "quantitative", "scale": {"type": "log", "domain": [1, 1000000], "nice": false},
              "axis": {"orient": "top", "values": [1,10,100,1000,10000,100000,1000000], "tickSize": -16, "labels": false, "title": null}},
            "y": {"field": "y", "type": "quantitative", "scale": {"domain": [0, 0.3], "nice": false, "zero": false},
              "axis": {"orient": "right", "values": [0,0.05,0.1,0.15,0.2,0.25,0.3], "tickSize": -16, "labels": false, "title": null}},
            "text": {"field": "t"}
          }
        },
        {
          "data": {"name": "notes"},
          "transform": [{"filter": "datum.panel == 'gg' && datum.kind == 'sub'"}],
          "mark": {"type": "text", "font": "DejaVu Serif", "fontSize": 20, "align": "left", "baseline": "alphabetic", "color": "black"},
          "encoding": {
            "x": {"field": "X", "type": "quantitative", "scale": {"type": "log", "domain": [1, 1000000], "nice": false},
              "axis": {"orient": "top", "values": [2,3,4,5,6,7,8,9,20,30,40,50,60,70,80,90,200,300,400,500,600,700,800,900,2000,3000,4000,5000,6000,7000,8000,9000,20000,30000,40000,50000,60000,70000,80000,90000,200000,300000,400000,500000,600000,700000,800000,900000], "tickSize": -7, "labels": false, "title": null}},
            "y": {"field": "y", "type": "quantitative", "scale": {"domain": [0, 0.3], "nice": false, "zero": false},
              "axis": {"orient": "right", "values": [0.01,0.02,0.03,0.04,0.06,0.07,0.08,0.09,0.11,0.12,0.13,0.14,0.16,0.17,0.18,0.19,0.21,0.22,0.23,0.24,0.26,0.27,0.28,0.29], "tickSize": -8, "labels": false, "title": null}},
            "text": {"field": "t"}
          }
        },
        {
          "data": {"name": "xticks"},
          "transform": [{"filter": "datum.kind == 'major'"}],
          "mark": {"type": "tick", "orient": "vertical", "size": 32, "thickness": 2, "color": "black", "opacity": 1, "clip": true},
          "encoding": {
            "x": {"field": "v", "type": "quantitative", "scale": {"type": "log", "domain": [1, 1000000], "nice": false}, "axis": null},
            "y": {"datum": 0, "type": "quantitative", "scale": {"domain": [0, 0.3], "nice": false, "zero": false}, "axis": null}
          }
        },
        {
          "data": {"name": "xticks"},
          "transform": [{"filter": "datum.kind == 'minor'"}],
          "mark": {"type": "tick", "orient": "vertical", "size": 14, "thickness": 2, "color": "black", "opacity": 1, "clip": true},
          "encoding": {
            "x": {"field": "v", "type": "quantitative", "scale": {"type": "log", "domain": [1, 1000000], "nice": false}, "axis": null},
            "y": {"datum": 0, "type": "quantitative", "scale": {"domain": [0, 0.3], "nice": false, "zero": false}, "axis": null}
          }
        },
        {
          "data": {"name": "yticks"},
          "transform": [{"filter": "datum.kind == 'major'"}],
          "mark": {"type": "tick", "orient": "horizontal", "size": 32, "thickness": 2, "color": "black", "opacity": 1, "clip": true},
          "encoding": {
            "x": {"datum": 1, "type": "quantitative", "scale": {"type": "log", "domain": [1, 1000000], "nice": false}, "axis": null},
            "y": {"field": "v", "type": "quantitative", "scale": {"domain": [0, 0.3], "nice": false, "zero": false}, "axis": null}
          }
        },
        {
          "data": {"name": "yticks"},
          "transform": [{"filter": "datum.kind == 'minor'"}],
          "mark": {"type": "tick", "orient": "horizontal", "size": 16, "thickness": 2, "color": "black", "opacity": 1, "clip": true},
          "encoding": {
            "x": {"datum": 1, "type": "quantitative", "scale": {"type": "log", "domain": [1, 1000000], "nice": false}, "axis": null},
            "y": {"field": "v", "type": "quantitative", "scale": {"domain": [0, 0.3], "nice": false, "zero": false}, "axis": null}
          }
        }
      ]
    }
  ]
}
